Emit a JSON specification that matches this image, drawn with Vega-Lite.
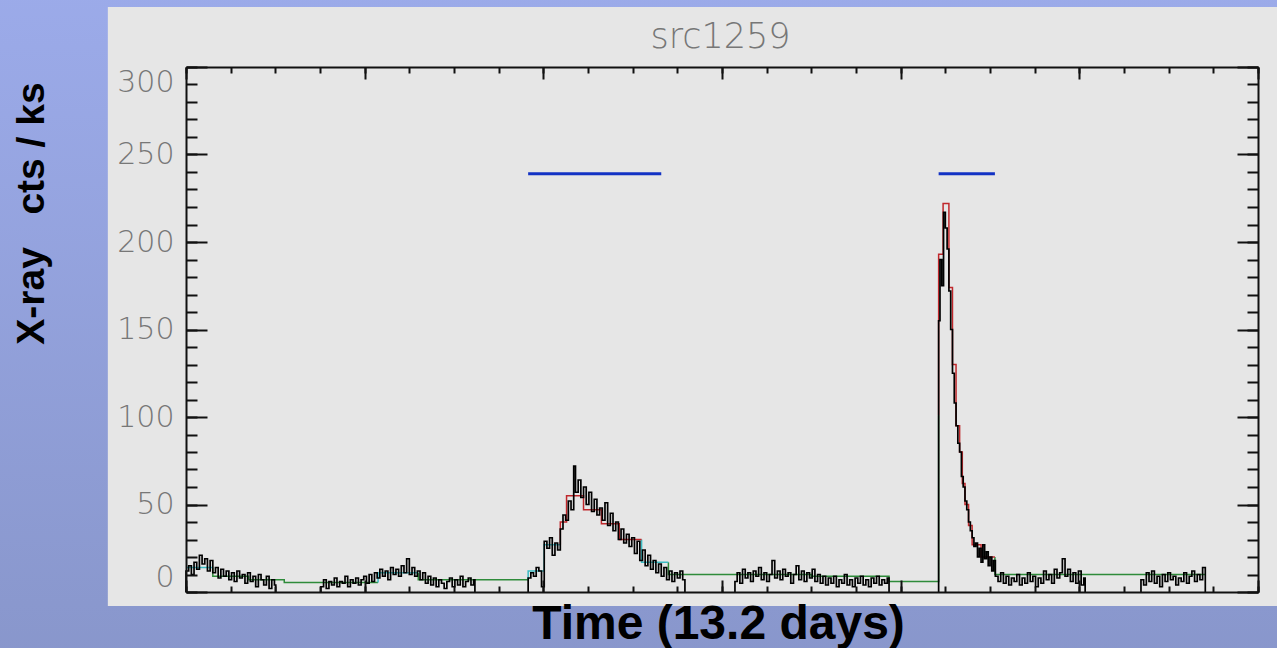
{
  "$schema": "https://vega.github.io/schema/vega-lite/v6.json",
  "width": 1072,
  "height": 525,
  "autosize": "none",
  "padding": {"left": 186, "top": 67, "right": 19, "bottom": 56},
  "background": "#929FDA",
  "config": {
    "view": {"stroke": null},
    "axis": {"grid": false, "zindex": 2, "domainColor": "#111111", "domainWidth": 2, "tickColor": "#111111", "tickWidth": 2, "labels": false, "title": null}
  },
  "resolve": {"axis": {"x": "independent", "y": "independent"}},
  "datasets": {
    "lc": [
      {"t":0,"c":0,"s":1},{"t":0,"c":12,"s":1},{"t":3,"c":15,"s":1},{"t":6,"c":10,"s":1},{"t":9,"c":17,"s":1},{"t":12,"c":13,"s":1},{"t":15,"c":21,"s":1},{"t":18,"c":16,"s":1},{"t":21,"c":19,"s":1},{"t":24,"c":12,"s":1},{"t":27,"c":18,"s":1},{"t":30,"c":11,"s":1},{"t":33,"c":14,"s":1},{"t":36,"c":8,"s":1},{"t":39,"c":13,"s":1},{"t":42,"c":9,"s":1},{"t":45,"c":12,"s":1},{"t":48,"c":7,"s":1},{"t":51,"c":11,"s":1},{"t":54,"c":6,"s":1},{"t":57,"c":12,"s":1},{"t":60,"c":8,"s":1},{"t":63,"c":10,"s":1},{"t":66,"c":5,"s":1},{"t":69,"c":11,"s":1},{"t":72,"c":6,"s":1},{"t":75,"c":9,"s":1},{"t":78,"c":3,"s":1},{"t":81,"c":10,"s":1},{"t":84,"c":7,"s":1},{"t":87,"c":4,"s":1},{"t":90,"c":9,"s":1},{"t":93,"c":2,"s":1},{"t":96,"c":7,"s":1},{"t":99,"c":4,"s":1},{"t":100.5,"c":4,"s":1},{"t":100.5,"c":0,"s":1},
      {"t":151,"c":0,"s":2},{"t":151,"c":3,"s":2},{"t":154,"c":7,"s":2},{"t":157,"c":2,"s":2},{"t":160,"c":6,"s":2},{"t":163,"c":4,"s":2},{"t":166,"c":8,"s":2},{"t":169,"c":3,"s":2},{"t":172,"c":6,"s":2},{"t":175,"c":5,"s":2},{"t":178,"c":9,"s":2},{"t":181,"c":3,"s":2},{"t":184,"c":7,"s":2},{"t":187,"c":5,"s":2},{"t":190,"c":8,"s":2},{"t":193,"c":4,"s":2},{"t":196,"c":7,"s":2},{"t":199,"c":9,"s":2},{"t":202,"c":5,"s":2},{"t":205,"c":10,"s":2},{"t":208,"c":6,"s":2},{"t":211,"c":11,"s":2},{"t":214,"c":8,"s":2},{"t":217,"c":13,"s":2},{"t":220,"c":9,"s":2},{"t":223,"c":12,"s":2},{"t":226,"c":7,"s":2},{"t":229,"c":14,"s":2},{"t":232,"c":10,"s":2},{"t":235,"c":13,"s":2},{"t":238,"c":9,"s":2},{"t":241,"c":15,"s":2},{"t":244,"c":11,"s":2},{"t":247,"c":19,"s":2},{"t":250,"c":10,"s":2},{"t":253,"c":14,"s":2},{"t":256,"c":9,"s":2},{"t":259,"c":12,"s":2},{"t":262,"c":7,"s":2},{"t":265,"c":11,"s":2},{"t":268,"c":5,"s":2},{"t":271,"c":9,"s":2},{"t":274,"c":4,"s":2},{"t":277,"c":8,"s":2},{"t":280,"c":3,"s":2},{"t":283,"c":7,"s":2},{"t":286,"c":5,"s":2},{"t":289,"c":2,"s":2},{"t":292,"c":6,"s":2},{"t":295,"c":8,"s":2},{"t":298,"c":3,"s":2},{"t":301,"c":7,"s":2},{"t":304,"c":4,"s":2},{"t":307,"c":9,"s":2},{"t":310,"c":3,"s":2},{"t":313,"c":6,"s":2},{"t":316,"c":8,"s":2},{"t":319,"c":4,"s":2},{"t":322,"c":7,"s":2},{"t":323.4,"c":7,"s":2},{"t":323.4,"c":0,"s":2},
      {"t":383,"c":0,"s":3},{"t":383,"c":8,"s":3},{"t":386,"c":11,"s":3},{"t":389,"c":9,"s":3},{"t":392,"c":14,"s":3},{"t":395,"c":12,"s":3},{"t":398,"c":3,"s":3},{"t":401,"c":29,"s":3},{"t":404,"c":25,"s":3},{"t":407,"c":31,"s":3},{"t":410,"c":21,"s":3},{"t":413,"c":28,"s":3},{"t":416,"c":24,"s":3},{"t":419,"c":36,"s":3},{"t":422,"c":44,"s":3},{"t":425,"c":41,"s":3},{"t":428,"c":52,"s":3},{"t":431,"c":47,"s":3},{"t":434,"c":72,"s":3},{"t":436,"c":57,"s":3},{"t":439,"c":64,"s":3},{"t":442,"c":54,"s":3},{"t":445,"c":60,"s":3},{"t":448,"c":50,"s":3},{"t":451,"c":57,"s":3},{"t":454,"c":46,"s":3},{"t":457,"c":53,"s":3},{"t":460,"c":44,"s":3},{"t":463,"c":48,"s":3},{"t":466,"c":41,"s":3},{"t":469,"c":51,"s":3},{"t":472,"c":38,"s":3},{"t":475,"c":45,"s":3},{"t":478,"c":35,"s":3},{"t":481,"c":40,"s":3},{"t":484,"c":30,"s":3},{"t":487,"c":36,"s":3},{"t":490,"c":28,"s":3},{"t":493,"c":33,"s":3},{"t":496,"c":26,"s":3},{"t":499,"c":31,"s":3},{"t":502,"c":22,"s":3},{"t":505,"c":29,"s":3},{"t":508,"c":18,"s":3},{"t":511,"c":24,"s":3},{"t":514,"c":15,"s":3},{"t":517,"c":21,"s":3},{"t":520,"c":13,"s":3},{"t":523,"c":18,"s":3},{"t":526,"c":11,"s":3},{"t":529,"c":16,"s":3},{"t":532,"c":9,"s":3},{"t":535,"c":14,"s":3},{"t":538,"c":7,"s":3},{"t":541,"c":12,"s":3},{"t":544,"c":6,"s":3},{"t":547,"c":11,"s":3},{"t":550,"c":8,"s":3},{"t":553,"c":12,"s":3},{"t":556,"c":7,"s":3},{"t":558.5,"c":7,"s":3},{"t":558.5,"c":0,"s":3},
      {"t":614.5,"c":0,"s":4},{"t":614.5,"c":6,"s":4},{"t":617,"c":11,"s":4},{"t":620,"c":5,"s":4},{"t":623,"c":13,"s":4},{"t":626,"c":8,"s":4},{"t":629,"c":11,"s":4},{"t":632,"c":6,"s":4},{"t":635,"c":12,"s":4},{"t":638,"c":9,"s":4},{"t":641,"c":14,"s":4},{"t":644,"c":7,"s":4},{"t":647,"c":11,"s":4},{"t":650,"c":6,"s":4},{"t":653,"c":10,"s":4},{"t":656,"c":18,"s":4},{"t":659,"c":8,"s":4},{"t":662,"c":12,"s":4},{"t":665,"c":7,"s":4},{"t":668,"c":13,"s":4},{"t":671,"c":9,"s":4},{"t":674,"c":11,"s":4},{"t":677,"c":5,"s":4},{"t":680,"c":10,"s":4},{"t":683,"c":15,"s":4},{"t":686,"c":7,"s":4},{"t":689,"c":12,"s":4},{"t":692,"c":6,"s":4},{"t":695,"c":11,"s":4},{"t":698,"c":8,"s":4},{"t":701,"c":13,"s":4},{"t":704,"c":6,"s":4},{"t":707,"c":10,"s":4},{"t":710,"c":5,"s":4},{"t":713,"c":9,"s":4},{"t":716,"c":4,"s":4},{"t":719,"c":8,"s":4},{"t":722,"c":5,"s":4},{"t":725,"c":9,"s":4},{"t":728,"c":3,"s":4},{"t":731,"c":7,"s":4},{"t":734,"c":5,"s":4},{"t":737,"c":10,"s":4},{"t":740,"c":4,"s":4},{"t":743,"c":7,"s":4},{"t":746,"c":3,"s":4},{"t":749,"c":8,"s":4},{"t":752,"c":5,"s":4},{"t":755,"c":9,"s":4},{"t":758,"c":4,"s":4},{"t":761,"c":7,"s":4},{"t":764,"c":3,"s":4},{"t":767,"c":8,"s":4},{"t":770,"c":5,"s":4},{"t":773,"c":9,"s":4},{"t":776,"c":4,"s":4},{"t":779,"c":7,"s":4},{"t":782,"c":5,"s":4},{"t":785,"c":8,"s":4},{"t":787,"c":8,"s":4},{"t":787,"c":0,"s":4},
      {"t":842.5,"c":0,"s":5},{"t":842.5,"c":155,"s":5},{"t":844,"c":190,"s":5},{"t":846,"c":175,"s":5},{"t":848,"c":217,"s":5},{"t":850,"c":208,"s":5},{"t":852,"c":196,"s":5},{"t":854,"c":172,"s":5},{"t":856,"c":150,"s":5},{"t":858,"c":125,"s":5},{"t":860,"c":108,"s":5},{"t":862,"c":95,"s":5},{"t":864,"c":85,"s":5},{"t":866,"c":80,"s":5},{"t":868,"c":66,"s":5},{"t":870,"c":60,"s":5},{"t":872,"c":52,"s":5},{"t":874,"c":47,"s":5},{"t":876,"c":40,"s":5},{"t":878,"c":35,"s":5},{"t":880,"c":31,"s":5},{"t":882,"c":26,"s":5},{"t":884,"c":28,"s":5},{"t":886,"c":20,"s":5},{"t":888,"c":25,"s":5},{"t":890,"c":17,"s":5},{"t":892,"c":27,"s":5},{"t":894,"c":19,"s":5},{"t":896,"c":23,"s":5},{"t":898,"c":15,"s":5},{"t":900,"c":20,"s":5},{"t":902,"c":12,"s":5},{"t":904,"c":18,"s":5},{"t":906,"c":9,"s":5},{"t":909,"c":6,"s":5},{"t":912,"c":11,"s":5},{"t":915,"c":5,"s":5},{"t":918,"c":9,"s":5},{"t":921,"c":4,"s":5},{"t":924,"c":8,"s":5},{"t":927,"c":6,"s":5},{"t":930,"c":10,"s":5},{"t":933,"c":4,"s":5},{"t":936,"c":8,"s":5},{"t":939,"c":5,"s":5},{"t":942,"c":11,"s":5},{"t":945,"c":6,"s":5},{"t":948,"c":9,"s":5},{"t":951,"c":3,"s":5},{"t":954,"c":8,"s":5},{"t":957,"c":5,"s":5},{"t":960,"c":12,"s":5},{"t":963,"c":7,"s":5},{"t":966,"c":10,"s":5},{"t":969,"c":5,"s":5},{"t":972,"c":13,"s":5},{"t":975,"c":8,"s":5},{"t":978,"c":11,"s":5},{"t":981,"c":19,"s":5},{"t":984,"c":9,"s":5},{"t":987,"c":13,"s":5},{"t":990,"c":6,"s":5},{"t":993,"c":11,"s":5},{"t":996,"c":5,"s":5},{"t":999,"c":12,"s":5},{"t":1002,"c":4,"s":5},{"t":1005,"c":8,"s":5},{"t":1006.5,"c":8,"s":5},{"t":1006.5,"c":0,"s":5},
      {"t":1069,"c":0,"s":6},{"t":1069,"c":7,"s":6},{"t":1072,"c":4,"s":6},{"t":1075,"c":11,"s":6},{"t":1078,"c":6,"s":6},{"t":1081,"c":12,"s":6},{"t":1084,"c":5,"s":6},{"t":1087,"c":9,"s":6},{"t":1090,"c":3,"s":6},{"t":1093,"c":10,"s":6},{"t":1096,"c":6,"s":6},{"t":1099,"c":11,"s":6},{"t":1102,"c":7,"s":6},{"t":1105,"c":9,"s":6},{"t":1108,"c":4,"s":6},{"t":1111,"c":8,"s":6},{"t":1114,"c":6,"s":6},{"t":1117,"c":11,"s":6},{"t":1120,"c":5,"s":6},{"t":1123,"c":9,"s":6},{"t":1126,"c":12,"s":6},{"t":1129,"c":6,"s":6},{"t":1132,"c":10,"s":6},{"t":1135,"c":7,"s":6},{"t":1138,"c":14,"s":6},{"t":1141,"c":14,"s":6},{"t":1141,"c":0,"s":6}
    ],
    "model": [
      {"t":0,"v":14,"r":1,"k":"c"},{"t":30,"v":14,"r":1,"k":"c"},
      {"t":30,"v":14,"r":2,"k":"g"},{"t":30,"v":9,"r":2,"k":"g"},{"t":70,"v":7,"r":2,"k":"g"},{"t":110,"v":5.5,"r":2,"k":"g"},{"t":215,"v":5.5,"r":2,"k":"g"},
      {"t":215,"v":5.5,"r":3,"k":"c"},{"t":215,"v":11,"r":3,"k":"c"},{"t":260,"v":11,"r":3,"k":"c"},
      {"t":260,"v":11,"r":4,"k":"g"},{"t":260,"v":7,"r":4,"k":"g"},{"t":383,"v":7,"r":4,"k":"g"},
      {"t":383,"v":7,"r":5,"k":"c"},{"t":383,"v":12,"r":5,"k":"c"},{"t":401,"v":12,"r":5,"k":"c"},{"t":401,"v":27,"r":5,"k":"c"},{"t":419,"v":27,"r":5,"k":"c"},
      {"t":419,"v":27,"r":6,"k":"r"},{"t":419,"v":40,"r":6,"k":"r"},{"t":426,"v":55,"r":6,"k":"r"},{"t":445,"v":47,"r":6,"k":"r"},{"t":465,"v":39,"r":6,"k":"r"},{"t":485,"v":30,"r":6,"k":"r"},{"t":510,"v":30,"r":6,"k":"r"},
      {"t":510,"v":30,"r":7,"k":"c"},{"t":510,"v":17,"r":7,"k":"c"},{"t":540,"v":17,"r":7,"k":"c"},
      {"t":540,"v":17,"r":8,"k":"g"},{"t":540,"v":10,"r":8,"k":"g"},{"t":700,"v":9,"r":8,"k":"g"},{"t":787,"v":6,"r":8,"k":"g"},{"t":842.5,"v":6,"r":8,"k":"g"},{"t":842.5,"v":101,"r":8,"k":"g"},
      {"t":842.5,"v":101,"r":9,"k":"r"},{"t":842.5,"v":193,"r":9,"k":"r"},{"t":847.5,"v":222,"r":9,"k":"r"},{"t":854,"v":174,"r":9,"k":"r"},{"t":858,"v":130,"r":9,"k":"r"},{"t":862,"v":95,"r":9,"k":"r"},{"t":866,"v":80,"r":9,"k":"r"},{"t":869,"v":62,"r":9,"k":"r"},{"t":872,"v":50,"r":9,"k":"r"},{"t":876,"v":38,"r":9,"k":"r"},{"t":880,"v":27,"r":9,"k":"r"},{"t":890,"v":20,"r":9,"k":"r"},{"t":905.5,"v":20,"r":9,"k":"r"},
      {"t":905.5,"v":20,"r":10,"k":"g"},{"t":905.5,"v":10,"r":10,"k":"g"},{"t":1141,"v":10,"r":10,"k":"g"}
    ],
    "flares": [
      {"t0":383,"t1":532,"y":239},
      {"t0":842.5,"t1":905.5,"y":239}
    ]
  },
  "layer": [
    {
      "data": {"values": [{}]},
      "mark": {"type": "rect", "fill": {"gradient": "linear", "x1": 0, "y1": 0, "x2": 0, "y2": 1, "stops": [{"offset": 0, "color": "#9CABEA"}, {"offset": 1, "color": "#8896CB"}]}},
      "encoding": {
        "x": {"datum": -230, "type": "quantitative", "scale": {"domain": [0, 1200], "nice": false, "zero": false}, "axis": null},
        "x2": {"datum": 1250},
        "y": {"datum": -45, "type": "quantitative", "scale": {"domain": [0, 300], "nice": false, "zero": false}, "axis": null},
        "y2": {"datum": 350}
      }
    },
    {
      "data": {"values": [{}]},
      "mark": {"type": "rect", "fill": "#E6E6E6"},
      "encoding": {
        "x": {"datum": -87.5, "type": "quantitative", "axis": null},
        "x2": {"datum": 1235},
        "y": {"datum": -8, "type": "quantitative", "axis": null},
        "y2": {"datum": 334.3}
      }
    },
    {
      "data": {"name": "model"},
      "transform": [{"filter": "datum.k === 'g'"}],
      "mark": {"type": "line", "interpolate": "step-after", "color": "#2E8B3A", "strokeWidth": 1.5},
      "encoding": {
        "x": {"field": "t", "type": "quantitative", "axis": {"orient": "top", "zindex": 2, "values": [0, 200, 400, 600, 800, 1000, 1200], "tickSize": -12, "domain": true, "labels": false, "title": "src1259", "titleFont": "DejaVu Sans", "titleFontSize": 35, "titleFontWeight": 200, "titleColor": "#777777", "titleBaseline": "alphabetic", "titleAlign": "center", "titleX": 534, "titleY": -20}},
        "y": {"field": "v", "type": "quantitative", "axis": {"orient": "left", "zindex": 2, "values": [0,10,20,30,40,50,60,70,80,90,100,110,120,130,140,150,160,170,180,190,200,210,220,230,240,250,260,270,280,290,300], "tickSize": -11, "domain": false, "labels": false}},
        "detail": {"field": "r"},
        "order": {"value": null}
      }
    },
    {
      "data": {"name": "model"},
      "transform": [{"filter": "datum.k === 'c'"}],
      "mark": {"type": "line", "interpolate": "step-after", "color": "#3CBCC4", "strokeWidth": 1.5},
      "encoding": {
        "x": {"field": "t", "type": "quantitative", "axis": {"orient": "top", "zindex": 2, "values": [0,50,100,150,200,250,300,350,400,450,500,550,600,650,700,750,800,850,900,950,1000,1050,1100,1150,1200], "tickSize": -6, "domain": false, "labels": false}},
        "y": {"field": "v", "type": "quantitative", "axis": {"orient": "right", "zindex": 2, "values": [0, 50, 100, 150, 200, 250, 300], "tickSize": -21, "domain": true, "labels": false}},
        "detail": {"field": "r"},
        "order": {"value": null}
      }
    },
    {
      "data": {"name": "model"},
      "transform": [{"filter": "datum.k === 'r'"}],
      "mark": {"type": "line", "interpolate": "step-after", "color": "#C0282C", "strokeWidth": 1.5},
      "encoding": {
        "x": {"field": "t", "type": "quantitative", "axis": null},
        "y": {"field": "v", "type": "quantitative", "axis": {"orient": "right", "zindex": 2, "values": [0,10,20,30,40,50,60,70,80,90,100,110,120,130,140,150,160,170,180,190,200,210,220,230,240,250,260,270,280,290,300], "tickSize": -11, "domain": false, "labels": false}},
        "detail": {"field": "r"},
        "order": {"value": null}
      }
    },
    {
      "data": {"name": "lc"},
      "transform": [{"filter": "datum.s <= 3"}],
      "mark": {"type": "line", "interpolate": "step-after", "color": "#000000", "strokeWidth": 1.7},
      "encoding": {
        "x": {"field": "t", "type": "quantitative", "axis": {"orient": "bottom", "zindex": 2, "values": [0, 200, 400, 600, 800, 1000, 1200], "tickSize": -12, "domain": true, "labels": false, "title": "Time (13.2 days)", "titleFont": "Liberation Sans", "titleFontSize": 48, "titleFontWeight": "bold", "titleColor": "#000000", "titleBaseline": "alphabetic", "titleAlign": "center", "titleX": 532, "titleY": 46}},
        "y": {"field": "c", "type": "quantitative", "axis": {"orient": "left", "zindex": 2, "values": [0, 50, 100, 150, 200, 250, 300], "ticks": false, "domain": false, "labels": true, "labelFont": "DejaVu Sans", "labelFontSize": 30, "labelFontWeight": 200, "labelColor": "#777777", "labelPadding": 12, "labelFlush": true, "title": "X-ray\u00a0\u00a0\u00a0cts / ks", "titleFont": "Liberation Sans", "titleFontSize": 39, "titleFontWeight": "bold", "titleColor": "#000000", "titleAngle": -90, "titleBaseline": "alphabetic", "titleAlign": "center", "titleX": -143, "titleY": 146}},
        "detail": {"field": "s"},
        "order": {"value": null}
      }
    },
    {
      "data": {"name": "lc"},
      "transform": [{"filter": "datum.s > 3"}],
      "mark": {"type": "line", "interpolate": "step-after", "color": "#000000", "strokeWidth": 1.7},
      "encoding": {
        "x": {"field": "t", "type": "quantitative", "axis": {"orient": "bottom", "zindex": 2, "values": [0,50,100,150,200,250,300,350,400,450,500,550,600,650,700,750,800,850,900,950,1000,1050,1100,1150,1200], "tickSize": -6, "domain": false, "labels": false}},
        "y": {"field": "c", "type": "quantitative", "axis": {"orient": "left", "zindex": 2, "values": [0, 50, 100, 150, 200, 250, 300], "tickSize": -21, "domain": true, "labels": false}},
        "detail": {"field": "s"},
        "order": {"value": null}
      }
    },
    {
      "data": {"name": "flares"},
      "mark": {"type": "rule", "color": "#1232C4", "strokeWidth": 3},
      "encoding": {
        "x": {"field": "t0", "type": "quantitative", "axis": null},
        "x2": {"field": "t1"},
        "y": {"field": "y", "type": "quantitative", "axis": null}
      }
    }
  ]
}
